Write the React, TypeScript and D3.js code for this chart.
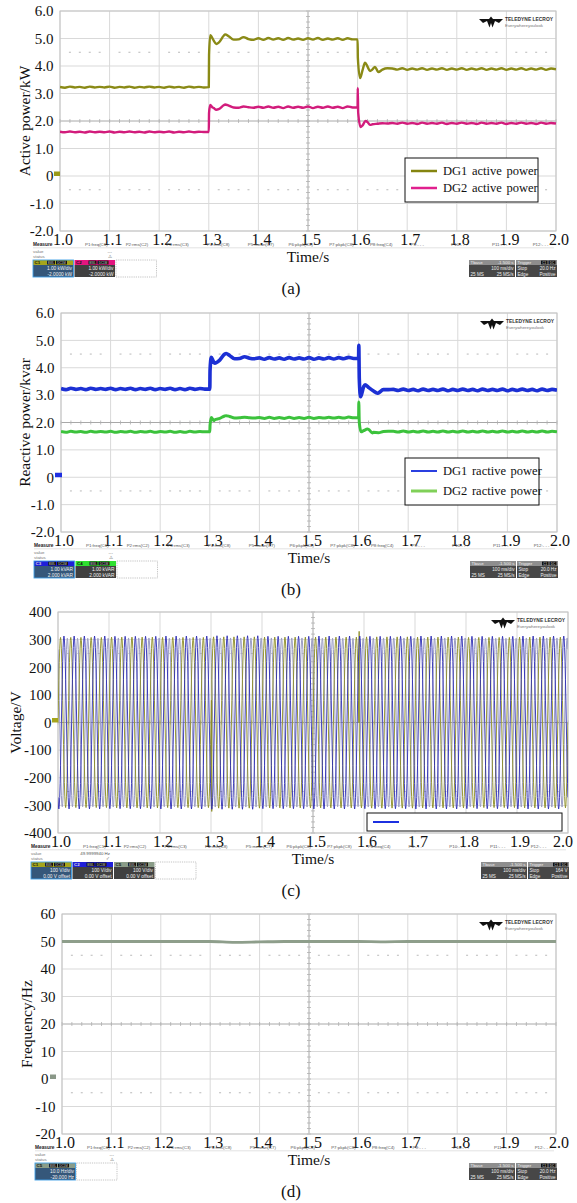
import React from 'react';
import * as d3 from 'd3';

const SERIF = "'Liberation Serif','Times New Roman',Times,serif";
const SANS = "'Liberation Sans',Arial,Helvetica,sans-serif";

type Pt = [number, number];

// ---- axis ticks ----
const timeTicks = [1.0, 1.1, 1.2, 1.3, 1.4, 1.5, 1.6, 1.7, 1.8, 1.9, 2.0];
const powerTicks = [6, 5, 4, 3, 2, 1, 0, -1, -2];
const voltageTicks = [400, 300, 200, 100, 0, -100, -200, -300, -400];
const frequencyTicks = [60, 50, 40, 30, 20, 10, 0, -10, -20];

// ---- power traces, one value every 10 ms from 1.00 s to 2.00 s ----
const SAMPLE_START = 1.0;
const SAMPLE_STEP = 0.01;

const dg1Active = [
  3.24, 3.21, 3.25, 3.22, 3.24, 3.21, 3.25, 3.22, 3.24, 3.22,
  3.25, 3.21, 3.24, 3.22, 3.25, 3.21, 3.24, 3.22, 3.25, 3.22,
  3.24, 3.21, 3.25, 3.22, 3.24, 3.21, 3.25, 3.22, 3.24, 3.22,
  3.23, 4.92, 4.85, 5.10, 5.08, 4.96, 4.97, 5.05, 4.98, 4.95,
  5.01, 4.95, 5.02, 4.96, 5.01, 4.95, 5.02, 4.96, 5.00, 4.95,
  5.01, 4.96, 5.02, 4.95, 5.00, 4.96, 5.01, 4.95, 5.01, 4.97,
  4.97, 3.85, 3.98, 3.88, 3.82, 3.87, 3.92, 3.91, 3.87, 3.92,
  3.86, 3.91, 3.87, 3.92, 3.86, 3.91, 3.87, 3.92, 3.86, 3.91,
  3.87, 3.92, 3.86, 3.91, 3.87, 3.92, 3.86, 3.91, 3.87, 3.92,
  3.86, 3.91, 3.87, 3.92, 3.86, 3.91, 3.87, 3.92, 3.86, 3.91,
  3.88,
];
const dg1ActiveTransient: Pt[] = [
  [1.3005, 4.4], [1.303, 5.12], [1.306, 5.05], [1.315, 4.8], [1.333, 5.15],
  [1.6005, 4.3], [1.605, 3.56], [1.615, 4.12], [1.625, 3.82], [1.635, 3.97], [1.642, 3.78],
];

const dg2Active = [
  1.61, 1.59, 1.62, 1.59, 1.61, 1.58, 1.62, 1.59, 1.61, 1.59,
  1.62, 1.58, 1.61, 1.59, 1.62, 1.59, 1.61, 1.58, 1.62, 1.59,
  1.61, 1.59, 1.62, 1.58, 1.61, 1.59, 1.62, 1.59, 1.61, 1.60,
  1.60, 2.47, 2.43, 2.57, 2.56, 2.49, 2.48, 2.53, 2.50, 2.48,
  2.52, 2.48, 2.53, 2.48, 2.52, 2.47, 2.53, 2.48, 2.52, 2.48,
  2.53, 2.47, 2.52, 2.48, 2.53, 2.48, 2.52, 2.47, 2.53, 2.49,
  2.50, 1.84, 1.96, 1.88, 1.90, 1.92, 1.91, 1.93, 1.90, 1.94,
  1.90, 1.93, 1.89, 1.94, 1.90, 1.93, 1.90, 1.94, 1.89, 1.93,
  1.90, 1.94, 1.90, 1.93, 1.89, 1.94, 1.90, 1.93, 1.90, 1.94,
  1.89, 1.93, 1.90, 1.94, 1.90, 1.93, 1.89, 1.94, 1.90, 1.93,
  1.91,
];
const dg2ActiveTransient: Pt[] = [
  [1.3005, 2.3], [1.303, 2.58], [1.307, 2.5], [1.315, 2.41], [1.333, 2.6],
  [1.6003, 3.2], [1.6012, 2.3], [1.606, 1.78], [1.616, 2.0], [1.625, 1.86],
];

const dg1Reactive = [
  3.24, 3.20, 3.25, 3.21, 3.24, 3.20, 3.25, 3.21, 3.24, 3.21,
  3.25, 3.20, 3.24, 3.21, 3.25, 3.20, 3.24, 3.21, 3.25, 3.20,
  3.24, 3.21, 3.25, 3.20, 3.24, 3.20, 3.25, 3.21, 3.24, 3.22,
  3.22, 4.17, 4.28, 4.50, 4.45, 4.33, 4.34, 4.40, 4.35, 4.33,
  4.36, 4.31, 4.37, 4.32, 4.36, 4.31, 4.37, 4.32, 4.36, 4.32,
  4.37, 4.31, 4.36, 4.32, 4.37, 4.32, 4.37, 4.33, 4.38, 4.34,
  4.36, 3.30, 3.28, 3.15, 3.08, 3.20, 3.20, 3.21, 3.17, 3.22,
  3.17, 3.21, 3.16, 3.22, 3.17, 3.21, 3.17, 3.22, 3.16, 3.21,
  3.17, 3.22, 3.17, 3.21, 3.16, 3.22, 3.17, 3.21, 3.17, 3.22,
  3.16, 3.21, 3.17, 3.22, 3.17, 3.21, 3.16, 3.22, 3.17, 3.21,
  3.18,
];
const dg1ReactiveTransient: Pt[] = [
  [1.3005, 3.9], [1.303, 4.38], [1.307, 4.24], [1.333, 4.52],
  [1.6004, 4.82], [1.6014, 3.6], [1.604, 2.94], [1.613, 3.38], [1.638, 3.07],
];

const dg2Reactive = [
  1.67, 1.64, 1.68, 1.65, 1.67, 1.64, 1.68, 1.65, 1.67, 1.65,
  1.68, 1.64, 1.67, 1.65, 1.68, 1.64, 1.67, 1.65, 1.68, 1.64,
  1.67, 1.65, 1.68, 1.64, 1.67, 1.64, 1.68, 1.65, 1.67, 1.66,
  1.66, 2.10, 2.15, 2.24, 2.22, 2.16, 2.17, 2.19, 2.17, 2.16,
  2.18, 2.15, 2.19, 2.15, 2.18, 2.15, 2.19, 2.15, 2.18, 2.15,
  2.19, 2.15, 2.18, 2.16, 2.19, 2.16, 2.19, 2.16, 2.20, 2.17,
  2.18, 1.70, 1.75, 1.64, 1.63, 1.67, 1.68, 1.68, 1.65, 1.69,
  1.65, 1.68, 1.65, 1.69, 1.65, 1.68, 1.65, 1.69, 1.65, 1.68,
  1.65, 1.69, 1.65, 1.68, 1.65, 1.69, 1.65, 1.68, 1.65, 1.69,
  1.65, 1.68, 1.65, 1.69, 1.65, 1.68, 1.65, 1.69, 1.65, 1.68,
  1.66,
];
const dg2ReactiveTransient: Pt[] = [
  [1.3005, 1.9], [1.303, 2.18], [1.308, 2.07], [1.333, 2.25],
  [1.6004, 2.75], [1.6014, 2.0], [1.605, 1.66], [1.618, 1.76], [1.628, 1.62],
];

// ---- voltage: per-phase peak amplitude (V) in each 0.1 s division ----
const voltageFreq = 50;
const voltageAmpC1 = [308, 309, 308, 310, 309, 309, 310, 309, 308, 309];
const voltageAmpC2 = [313, 312, 313, 314, 312, 313, 312, 313, 312, 313];
const voltageAmpC5 = [305, 306, 305, 306, 306, 305, 306, 306, 305, 306];
const voltagePhaseDeg = [0, -120, 120];
const voltageEventsC1: Pt[] = [[1.5905, 330], [1.3015, -322]];

// ---- frequency, one value every 50 ms ----
const FREQ_STEP = 0.05;
const frequency = [
  50.0, 50.0, 50.0, 50.0, 50.0, 50.0, 50.0, 49.7, 49.85, 50.0,
  50.0, 50.0, 50.0, 49.9, 50.0, 50.0, 50.0, 50.0, 50.0, 50.0, 50.0,
];

const measureLabels = [
  'P1:freq(C1)', 'P2:rms(C2)', 'P3:rms(C3)', 'P4:rms(C8)', 'P5:mean(C7)', 'P6:pkpk(C8)',
  'P7:pkpk(C8)', 'P8:freq(C4)', 'P9:- - -', 'P10:- - -', 'P11:- - -', 'P12:- - -',
];

function withTransients(values: number[], extra: Pt[]): Pt[] {
  const base: Pt[] = values.map((v, i) => [SAMPLE_START + i * SAMPLE_STEP, v]);
  return base.concat(extra).sort((a, b) => a[0] - b[0]);
}

function phaseWave(amps: number[], shiftDeg: number, events: Pt[]): Pt[] {
  const perCycle = 24;
  const n = voltageFreq * perCycle;
  const pts: Pt[] = [];
  for (let k = 0; k <= n; k++) {
    const t = 1 + k / n;
    const seg = Math.min(amps.length - 1, Math.floor((t - 1) * amps.length));
    pts.push([t, amps[seg] * Math.sin(2 * Math.PI * voltageFreq * (t - 1) + (shiftDeg * Math.PI) / 180)]);
  }
  return pts.concat(events).sort((a, b) => a[0] - b[0]);
}

const frequencyPts: Pt[] = frequency.map((v, i) => [1 + i * FREQ_STEP, v]);

interface Trace { pts: Pt[]; color: string; width: number; curve?: d3.CurveFactory; }
interface LegendRow { label: string; color: string; width: number; }
interface Channel { name: string; head: string; headText: string; body: string; border?: string; lines: string[]; }

interface PanelCfg {
  left: number; right: number; top: number; bottom: number;
  yDomain: [number, number]; yTicks: number[]; yFormat: (v: number) => string;
  yTitle: string; yTitleX: number; caption: string; zeroLabelX: number;
  traces: Trace[];
  marker: { color: string; x: number; w: number };
  legend: { x: number; y: number; w: number; h: number; rows: LegendRow[]; rowY: number[] };
  channels: Channel[]; empties: number; valueText: string; statusMark: string; trigger: string;
}

const fmtPower = (v: number) => (v === 0 ? '0' : v.toFixed(1));
const fmtInt = (v: number) => String(v);

const OLIVE = '#8a8a16';
const MAGENTA = '#d21c7c';
const BLUE = '#1c30d4';
const GREEN = '#3cc23c';

const panels: PanelCfg[] = [
  {
    left: 60, right: 556, top: 11, bottom: 231,
    yDomain: [-2, 6], yTicks: powerTicks, yFormat: fmtPower,
    yTitle: 'Active power/kW', yTitleX: 25, caption: '(a)', zeroLabelX: 53.5,
    traces: [
      { pts: withTransients(dg1Active, dg1ActiveTransient), color: OLIVE, width: 2.4 },
      { pts: withTransients(dg2Active, dg2ActiveTransient), color: MAGENTA, width: 2.4 },
    ],
    marker: { color: '#9a9a18', x: 54, w: 6 },
    legend: {
      x: 405, y: 158, w: 133, h: 44, rowY: [171, 188],
      rows: [
        { label: 'DG1 active power', color: '#858510', width: 2.5 },
        { label: 'DG2 active power', color: '#e0208e', width: 2.5 },
      ],
    },
    channels: [
      { name: 'C1', head: '#a5a51c', headText: '#111', body: '#35577a', border: '#41a0e6', lines: ['1.00 kW/div', '-2.0000 kW'] },
      { name: 'C2', head: '#e3157f', headText: '#111', body: '#404040', lines: ['1.00 kW/div', '-2.0000 kW'] },
    ],
    empties: 1, valueText: '---', statusMark: '\u26A0', trigger: '20.0 Hz',
  },
  {
    left: 61, right: 557, top: 313, bottom: 532,
    yDomain: [-2, 6], yTicks: powerTicks, yFormat: fmtPower,
    yTitle: 'Reactive power/kvar', yTitleX: 25, caption: '(b)', zeroLabelX: 54,
    traces: [
      { pts: withTransients(dg1Reactive, dg1ReactiveTransient), color: BLUE, width: 3.6 },
      { pts: withTransients(dg2Reactive, dg2ReactiveTransient), color: GREEN, width: 3.0 },
    ],
    marker: { color: '#1f2fe0', x: 55, w: 7 },
    legend: {
      x: 405, y: 458, w: 134, h: 47, rowY: [471, 491],
      rows: [
        { label: 'DG1 ractive power', color: '#2a3fe0', width: 2 },
        { label: 'DG2 ractive power', color: '#80d058', width: 3 },
      ],
    },
    channels: [
      { name: 'C3', head: '#1f1fd8', headText: '#ddd', body: '#35577a', border: '#41a0e6', lines: ['1.00 kVAR', '2.000 kVAR'] },
      { name: 'C4', head: '#2fe02f', headText: '#111', body: '#404040', lines: ['1.00 kVAR', '2.000 kVAR'] },
    ],
    empties: 1, valueText: '---', statusMark: '\u26A0', trigger: '20.0 Hz',
  },
  {
    left: 58, right: 568, top: 612, bottom: 833,
    yDomain: [-400, 400], yTicks: voltageTicks, yFormat: fmtInt,
    yTitle: 'Voltage/V', yTitleX: 16, caption: '(c)', zeroLabelX: 51.5,
    traces: [
      { pts: phaseWave(voltageAmpC5, voltagePhaseDeg[2], []), color: '#9c9ec4', width: 1, curve: d3.curveLinear },
      { pts: phaseWave(voltageAmpC1, voltagePhaseDeg[0], voltageEventsC1), color: '#8c8c22', width: 0.9, curve: d3.curveLinear },
      { pts: phaseWave(voltageAmpC2, voltagePhaseDeg[1], []), color: '#2c2cb4', width: 0.9, curve: d3.curveLinear },
    ],
    marker: { color: '#a5a51c', x: 52, w: 6 },
    legend: {
      x: 367, y: 813, w: 195, h: 18, rowY: [822],
      rows: [{ label: '', color: '#1c30e0', width: 2 }],
    },
    channels: [
      { name: 'C1', head: '#a5a51c', headText: '#111', body: '#35577a', border: '#41a0e6', lines: ['100 V/div', '0.00 V offset'] },
      { name: 'C2', head: '#1f1fd8', headText: '#ddd', body: '#404040', lines: ['100 V/div', '0.00 V offset'] },
      { name: 'C5', head: '#8a9c88', headText: '#111', body: '#404040', lines: ['100 V/div', '0.00 V offset'] },
    ],
    empties: 1, valueText: '49.9999940 Hz', statusMark: '\u2713', trigger: '164 V',
  },
  {
    left: 62, right: 556, top: 914, bottom: 1134,
    yDomain: [-20, 60], yTicks: frequencyTicks, yFormat: fmtInt,
    yTitle: 'Frequency/Hz', yTitleX: 27, caption: '(d)', zeroLabelX: 48.5,
    traces: [{ pts: frequencyPts, color: '#8e9e8b', width: 2.8 }],
    marker: { color: '#8a9888', x: 50, w: 6 },
    legend: { x: 0, y: 0, w: 0, h: 0, rowY: [], rows: [] },
    channels: [
      { name: 'C5', head: '#8a9c88', headText: '#111', body: '#35577a', border: '#41a0e6', lines: ['10.0 Hz/div', '-20.000 Hz'] },
    ],
    empties: 1, valueText: '---', statusMark: '\u26A0', trigger: '20.0 Hz',
  },
];

function Logo({ R, T }: { R: number; T: number }) {
  const cx = R - 65;
  const cy = T + 11;
  const d = `M${cx - 12},${cy - 3} L${cx - 2},${cy - 3} L${cx},${cy - 5.5} L${cx + 2},${cy - 3} L${cx + 12},${cy - 3}
    L${cx + 8},${cy + 1} L${cx + 4},${cy - 1} L${cx + 1.5},${cy + 5.5} L${cx},${cy + 1} L${cx - 1.5},${cy + 5.5}
    L${cx - 4},${cy - 1} L${cx - 8},${cy + 1} Z`;
  return (
    <g>
      <path d={d} fill="#111" />
      <text x={R - 51} y={T + 10} fontFamily={SANS} fontSize={5.6} fontWeight="bold" fill="#333"
        textLength={48} lengthAdjust="spacingAndGlyphs">TELEDYNE LECROY</text>
      <text x={R - 51} y={T + 15.5} fontFamily={SANS} fontSize={4.4} fill="#777"
        textLength={38} lengthAdjust="spacingAndGlyphs">Everywhereyoulook</text>
    </g>
  );
}

function ScopeStrip({ cfg }: { cfg: PanelCfg }) {
  const L = cfg.left;
  const R = cfg.right;
  const B = cfg.bottom;
  const lx = L - 27;
  const by = B + 29;
  const bw = 40.5;
  const rx = R - 87;
  return (
    <g fontFamily={SANS}>
      <text x={lx} y={B + 15} fontSize={4.8} fontWeight="bold" fill="#222">Measure</text>
      {measureLabels.map((m, i) => (
        <text key={m} x={L + 25 + i * 40.7} y={B + 15} fontSize={4.4} fill="#555">{m}</text>
      ))}
      <line x1={lx} x2={R - 2} y1={B + 16.8} y2={B + 16.8} stroke="#cfcfcf" strokeWidth={0.6} />
      <text x={lx} y={B + 21.5} fontSize={4.4} fill="#777">value</text>
      <text x={L + 52} y={B + 21.5} fontSize={4.4} fill="#555" textAnchor="end">{cfg.valueText}</text>
      <text x={lx} y={B + 27} fontSize={4.4} fill="#777">status</text>
      <text x={L + 50} y={B + 27} fontSize={4.6} fill="#555" textAnchor="middle"
        fontFamily="'DejaVu Sans',sans-serif">{cfg.statusMark}</text>
      {cfg.channels.map((c, k) => {
        const x0 = lx + k * 41.5;
        return (
          <g key={c.name + k}>
            <rect x={x0} y={by} width={bw} height={5} fill={c.head} />
            <text x={x0 + 1.5} y={by + 4.2} fontSize={4.4} fontWeight="bold" fill={c.headText}>{c.name}</text>
            <rect x={x0 + 14} y={by + 0.6} width={8} height={3.8} fill="#111" />
            <rect x={x0 + 23} y={by + 0.6} width={11} height={3.8} fill="#111" />
            <text x={x0 + 18} y={by + 3.9} fontSize={3} fill="#ccc" textAnchor="middle">BWL</text>
            <text x={x0 + 28.5} y={by + 3.9} fontSize={3} fill="#ccc" textAnchor="middle">DC1M</text>
            <rect x={x0} y={by + 5} width={bw} height={12} fill={c.body} />
            {c.border && (
              <rect x={x0} y={by} width={bw} height={17} fill="none" stroke={c.border} strokeWidth={0.9} />
            )}
            <text x={x0 + bw - 1.5} y={by + 10.3} fontSize={4.8} fill="#f2f2f2" textAnchor="end">{c.lines[0]}</text>
            <text x={x0 + bw - 1.5} y={by + 15.6} fontSize={4.8} fill="#f2f2f2" textAnchor="end">{c.lines[1]}</text>
          </g>
        );
      })}
      {d3.range(cfg.empties).map((k) => (
        <rect key={'e' + k} x={lx + (cfg.channels.length + k) * 41.5} y={by} width={bw} height={17}
          fill="#fff" stroke="#9a9a9a" strokeWidth={0.6} strokeDasharray="1.2,1" />
      ))}
      <g>
        <rect x={rx} y={by} width={46} height={5} fill="#8e8e8e" />
        <rect x={rx} y={by + 5} width={46} height={12} fill="#474747" />
        <text x={rx + 1.5} y={by + 4.2} fontSize={4.4} fill="#f0f0f0">Tbase</text>
        <text x={rx + 44.5} y={by + 4.2} fontSize={4.4} fill="#f0f0f0" textAnchor="end">-1.500 s</text>
        <text x={rx + 44.5} y={by + 10.3} fontSize={4.6} fill="#eee" textAnchor="end">100 ms/div</text>
        <text x={rx + 1.5} y={by + 15.6} fontSize={4.6} fill="#eee">25 MS</text>
        <text x={rx + 44.5} y={by + 15.6} fontSize={4.6} fill="#eee" textAnchor="end">25 MS/s</text>
        <rect x={rx + 47} y={by} width={41} height={5} fill="#8e8e8e" />
        <rect x={rx + 47} y={by + 5} width={41} height={12} fill="#474747" />
        <text x={rx + 48.5} y={by + 4.2} fontSize={4.4} fill="#f0f0f0">Trigger</text>
        <rect x={rx + 72} y={by + 0.6} width={6.5} height={3.8} fill="#111" />
        <rect x={rx + 79.5} y={by + 0.6} width={7} height={3.8} fill="#111" />
        <text x={rx + 75.2} y={by + 3.9} fontSize={3} fill="#ddd" textAnchor="middle">C1</text>
        <text x={rx + 83} y={by + 3.9} fontSize={3} fill="#ddd" textAnchor="middle">DC</text>
        <text x={rx + 48.5} y={by + 10.3} fontSize={4.6} fill="#eee">Stop</text>
        <text x={rx + 86.5} y={by + 10.3} fontSize={4.6} fill="#eee" textAnchor="end">{cfg.trigger}</text>
        <text x={rx + 48.5} y={by + 15.6} fontSize={4.6} fill="#eee">Edge</text>
        <text x={rx + 86.5} y={by + 15.6} fontSize={4.6} fill="#eee" textAnchor="end">Positive</text>
      </g>
    </g>
  );
}

function Panel({ cfg }: { cfg: PanelCfg }) {
  const { left: L, right: R, top: T, bottom: B } = cfg;
  const x = d3.scaleLinear().domain([1, 2]).range([L, R]);
  const y = d3.scaleLinear().domain(cfg.yDomain).range([B, T]);
  const [y0, y1] = cfg.yDomain;
  const div = (y1 - y0) / 8;
  const yc = (y0 + y1) / 2;
  const minorX = d3.range(0, 51).map((i) => 1 + i * 0.02);
  const minorY = d3.range(0, 41).map((i) => y0 + (i * div) / 5);
  const dotted = [yc + 2.5 * div, yc - 2.5 * div];

  const clipId = 'clip-' + cfg.caption.replace(/[()]/g, '');

  return (
    <g>
      <defs>
        <clipPath id={clipId}>
          <rect x={L} y={T - 12} width={R - L} height={B - T + 24} />
        </clipPath>
      </defs>
      {/* graticule */}
      {timeTicks.map((t) => (
        <line key={'gx' + t} x1={x(t)} x2={x(t)} y1={T} y2={B}
          stroke={t === 1.5 ? '#a8a8a8' : '#d9d9d9'} strokeWidth={1} />
      ))}
      {cfg.yTicks.map((v) => (
        <line key={'gy' + v} x1={L} x2={R} y1={y(v)} y2={y(v)}
          stroke={v === yc ? '#a8a8a8' : '#d9d9d9'} strokeWidth={1} />
      ))}
      {dotted.map((v) =>
        minorX.filter((_, i) => i % 5 !== 0).map((t) => (
          <line key={'d' + v + '-' + t} x1={x(t) - 1} x2={x(t) + 1} y1={y(v)} y2={y(v)} stroke="#b9b9b9" strokeWidth={1} />
        ))
      )}
      {minorX.map((t) => (
        <line key={'mx' + t} x1={x(t)} x2={x(t)} y1={y(yc) - 2} y2={y(yc) + 2} stroke="#b0b0b0" strokeWidth={0.8} />
      ))}
      {minorY.map((v) => (
        <line key={'my' + v} x1={x(1.5) - 2} x2={x(1.5) + 2} y1={y(v)} y2={y(v)} stroke="#b0b0b0" strokeWidth={0.8} />
      ))}
      <rect x={L} y={T} width={R - L} height={B - T} fill="none" stroke="#c4c4c4" strokeWidth={1} />

      {/* traces */}
      <g clipPath={`url(#${clipId})`}>
        {cfg.traces.map((tr, i) => {
          const line = d3.line<Pt>()
            .x((d) => x(d[0]))
            .y((d) => y(d[1]))
            .curve(tr.curve ?? d3.curveMonotoneX);
          return (
            <path key={'tr' + i} d={line(tr.pts) ?? ''} fill="none" stroke={tr.color}
              strokeWidth={tr.width} strokeLinejoin="round" />
          );
        })}
      </g>

      <Logo R={R} T={T} />

      {/* legend */}
      {cfg.legend.rows.length > 0 && (
        <g>
          <rect x={cfg.legend.x} y={cfg.legend.y} width={cfg.legend.w} height={cfg.legend.h}
            fill="#fff" stroke="#111" strokeWidth={1} />
          {cfg.legend.rows.map((r, i) => (
            <g key={'lg' + i}>
              <line x1={cfg.legend.x + 6} x2={cfg.legend.x + 32} y1={cfg.legend.rowY[i]} y2={cfg.legend.rowY[i]}
                stroke={r.color} strokeWidth={r.width} />
              <text x={cfg.legend.x + 38} y={cfg.legend.rowY[i]} dy="0.35em" fontFamily={SERIF}
                fontSize={12.5} wordSpacing={1.5} fill="#111">{r.label}</text>
            </g>
          ))}
        </g>
      )}

      {/* channel offset marker */}
      <rect x={cfg.marker.x} y={y(0) - 4.5} width={cfg.marker.w} height={4.5} fill={cfg.marker.color} />

      {/* axes labels */}
      {cfg.yTicks.map((v) => (
        <text key={'yl' + v} x={v === 0 ? cfg.zeroLabelX : L - 6.5} y={y(v)} dy="0.35em" textAnchor="end"
          fontFamily={SERIF} fontSize={15} fill="#111">{cfg.yFormat(v)}</text>
      ))}
      {timeTicks.map((t) => (
        <text key={'xl' + t} x={Math.min(x(t) + 3, 563)} y={B + 14} textAnchor="middle"
          fontFamily={SERIF} fontSize={16} fill="#111">{t.toFixed(1)}</text>
      ))}
      <text transform={`translate(${cfg.yTitleX},${(T + B) / 2}) rotate(-90)`} textAnchor="middle" dy="0.35em"
        fontFamily={SERIF} fontSize={15.5} fill="#111">{cfg.yTitle}</text>
      <text x={(L + R) / 2} y={B + 31} textAnchor="middle" fontFamily={SERIF} fontSize={15.5} fill="#111">Time/s</text>
      <text x={291} y={B + 63} textAnchor="middle" fontFamily={SERIF} fontSize={17} fill="#111">{cfg.caption}</text>

      <ScopeStrip cfg={cfg} />
    </g>
  );
}

export default function App() {
  return (
    <svg width={577} height={1203} viewBox="0 0 577 1203"
      style={{ position: 'absolute', left: 0, top: 0, display: 'block', background: '#fff' }}>
      <rect x={0} y={0} width={577} height={1203} fill="#fff" />
      {panels.map((p) => (
        <Panel key={p.caption} cfg={p} />
      ))}
    </svg>
  );
}
